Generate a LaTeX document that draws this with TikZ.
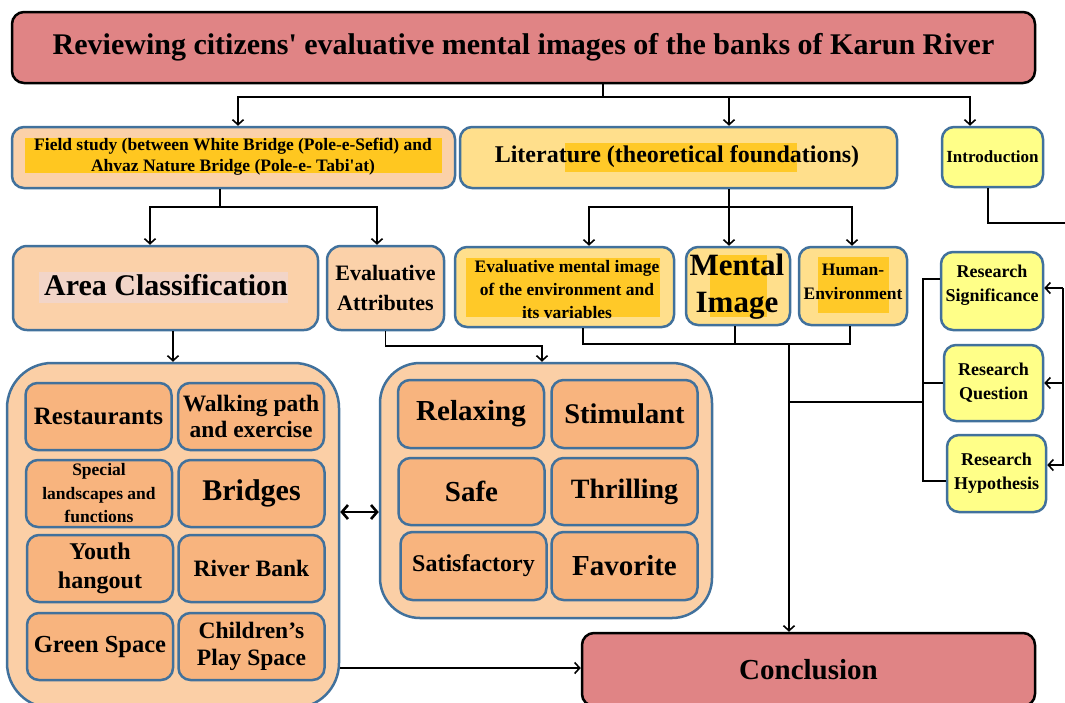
\documentclass[tikz,border=0pt]{standalone}
\usepackage{fontspec}
\setmainfont{Liberation Serif}
\usetikzlibrary{arrows.meta}

\definecolor{titlered}{RGB}{224,132,133}
\definecolor{peach}{RGB}{251,209,169}
\definecolor{fieldhl}{RGB}{255,199,32}
\definecolor{litfill}{RGB}{255,223,140}
\definecolor{lithl}{RGB}{255,201,40}
\definecolor{pale}{RGB}{255,255,136}
\definecolor{grpfill}{RGB}{251,207,166}
\definecolor{cellfill}{RGB}{248,180,126}
\definecolor{boxblue}{RGB}{65,113,156}
\definecolor{areahl}{RGB}{242,213,200}

\tikzstyle{box}=[rectangle, rounded corners=12pt, draw=boxblue, line width=2.5pt, inner sep=0pt, align=center, font=\bfseries]
\tikzstyle{redbox}=[box, draw=black, fill=titlered]
\tikzstyle{peachbox}=[box, fill=peach]
\tikzstyle{litbox}=[box, fill=litfill]
\tikzstyle{palebox}=[box, fill=pale]
\tikzstyle{group}=[box, fill=grpfill, rounded corners=42pt]
\tikzstyle{cell}=[box, fill=cellfill, minimum width=146pt, minimum height=67pt]
\tikzstyle{txt}=[inner sep=0pt, align=center, font=\bfseries]
\tikzstyle{line}=[line width=1.6pt]
\tikzstyle{arr}=[line, -{Straight Barb[length=5pt,width=11pt]}]
\tikzstyle{dblarr}=[line width=2.6pt, {Straight Barb[length=6pt,width=14pt]}-{Straight Barb[length=6pt,width=14pt]}]
\tikzset{fs/.style 2 args={font=\bfseries\fontsize{#1}{#2}\selectfont}}

\begin{document}
\begin{tikzpicture}[x=1pt,y=-1pt]
\useasboundingbox (0,0) rectangle (1065,702);

\node (title) at (523.5,47.5) [redbox, minimum width=1023, minimum height=71, fs={30}{34}] {Reviewing citizens\textquotesingle{} evaluative mental images of the banks of Karun River};

% first row
\node (field) at (233.5,157.5) [peachbox, minimum width=443, minimum height=61] {};
\fill[fieldhl] (25,138) rectangle (442,173);
\node (field-t) at (233,157) [txt, fs={17.5}{21}] {Field study (between White Bridge (Pole-e-Sefid) and\\Ahvaz Nature Bridge (Pole-e- Tabi\textquotesingle{}at)};

\node (lit) at (678.5,157.5) [litbox, minimum width=437, minimum height=61] {};
\fill[lithl] (565,143) rectangle (797,172);
\node (lit-t) at (677,157) [txt, fs={24}{28}] {Literature (theoretical foundations)};

\node (intro) at (992.5,157) [palebox, minimum width=101, minimum height=60, fs={17}{20}] {Introduction};

% second row
\node (area) at (165.5,288) [peachbox, minimum width=305, minimum height=84, rounded corners=14] {};
\fill[areahl] (39,272) rectangle (288,303);
\node (area-t) at (166,285) [txt, fs={30}{34}] {Area Classification};

\node (evattr) at (385.5,288) [peachbox, minimum width=117, minimum height=84, rounded corners=14, fs={22}{30}] {Evaluative\\Attributes};

\node (evmental) at (564.5,287) [litbox, minimum width=219, minimum height=80] {};
\fill[lithl] (466,258) rectangle (660,317);
\node (evmental-t) at (567,290) [txt, fs={17.5}{23}] {Evaluative mental image\\of the environment and\\its variables};

\node (mental) at (738,286) [litbox, minimum width=104, minimum height=78] {};
\fill[lithl] (710,255) rectangle (767,317);
\node (mental-t) at (737,287) [txt, fs={31}{37}] {Mental\\Image};

\node (human) at (853,286) [litbox, minimum width=108, minimum height=78] {};
\fill[lithl] (818,257) rectangle (889,313);
\node (human-t) at (853,282) [txt, fs={17.5}{24}] {Human-\\Environment};

\node (rsig) at (992,291) [palebox, minimum width=102, minimum height=78] {};
\node (rsig-t) at (992,285) [txt, fs={18}{24}] {Research\\Significance};
\node (rq) at (993.5,383) [palebox, minimum width=99, minimum height=76, fs={18}{24}] {Research\\Question};
\node (rhyp) at (996.5,473.5) [palebox, minimum width=99, minimum height=77, fs={18}{24}] {Research\\Hypothesis};

% groups
\node (areagrp) at (173,535.5) [group, minimum width=332, minimum height=345, rounded corners=45] {};
\node (attrgrp) at (546,490.5) [group, minimum width=332, minimum height=255, rounded corners=40] {};

\node (rest) at (98.5,416.5) [cell, fs={25}{28}] {Restaurants};
\node (walk) at (251,416.5) [cell, fs={23.5}{26}] {Walking path\\and exercise};
\node (spec) at (99,493.5) [cell, fs={17.5}{23.5}] {Special\\landscapes and\\functions};
\node (bridge) at (251.5,493.5) [cell, fs={30}{34}] {Bridges};
\node (youth) at (100,568.5) [cell, fs={24}{29}] {Youth\\hangout};
\node (river) at (251.5,568.5) [cell, fs={23.5}{27}] {River Bank};
\node (green) at (100,646.5) [cell, fs={24.5}{28}] {Green Space};
\node (child) at (251.5,646.5) [cell, fs={23.5}{27}] {Children’s\\Play Space};

\node (relax) at (471,414) [cell, minimum height=68, fs={29}{32}] {Relaxing};
\node (stim) at (624.5,414) [cell, minimum height=68, fs={28.5}{32}] {Stimulant};
\node (safe) at (471.5,491.5) [cell, fs={29}{32}] {Safe};
\node (thrill) at (624.5,491.5) [cell, fs={28}{32}] {Thrilling};
\node (satis) at (473.5,566) [cell, minimum height=68, fs={24}{28}] {Satisfactory};
\node (fav) at (624.5,566) [cell, minimum height=68, fs={29}{32}] {Favorite};

\node (concl) at (808.5,669.5) [redbox, minimum width=453, minimum height=73, fs={29}{32}] {Conclusion};

% connectors
\coordinate (split) at (603,97);
\draw[line] (title.south -| split) -- (split);
\draw[arr] (split) -| ([xshift=4.5]field.north);
\draw[arr] (split) -| ([xshift=50.5]lit.north);
\draw[arr] (split) -| ([xshift=-22.5]intro.north);

\coordinate (fsplit) at (220,207);
\draw[line] (field.south -| fsplit) -- (fsplit);
\draw[arr] (fsplit) -| ([xshift=-15.5]area.north);
\draw[arr] (fsplit) -| ([xshift=-8.5]evattr.north);

\coordinate (lsplit) at (729,207);
\draw[arr] (lit.south -| lsplit) -- (mental.north -| lsplit);
\draw[arr] (lsplit) -| ([xshift=24.5]evmental.north);
\draw[arr] (lsplit) -| ([xshift=-1]human.north);

\draw[arr] (area.south -| areagrp.north) -- (areagrp.north);
\draw[arr] (evattr.south) -- ++(0,15) -| ([xshift=-4]attrgrp.north);

\coordinate (ljoin) at (789,343);
\draw[line] ([xshift=18.5]evmental.south) -- ++(0,16) -| ([xshift=-3]human.south);
\draw[line] ([xshift=-3]mental.south) -- ++(0,18);
\draw[arr] (ljoin) -- ([xshift=-19.5]concl.north);

\coordinate (rjoin) at (923,402);
\draw[line] (ljoin |- rjoin) -- (rjoin);
\draw[line] ([yshift=12]rsig.west) -| (rjoin);
\draw[line] (rq.west) -- (rq.west -| rjoin);
\draw[line] ([yshift=-7.5]rhyp.west) -| (rjoin);

\coordinate (introout) at (1065,223);
\draw[line] ([xshift=-4.5]intro.south) |- (introout);

\coordinate (rin) at (1063,288);
\draw[arr] (rin) -- ([yshift=3]rsig.east);
\draw[arr] (rq.east -| rin) -- (rq.east);
\draw[arr] (rin) |- ([yshift=8.5]rhyp.east);

\draw[dblarr] ([yshift=23.5]areagrp.east) -- ([yshift=-21.5]attrgrp.west);
\draw[arr] ([yshift=-132.5]areagrp.east) -- ([yshift=1.5]concl.west);

\end{tikzpicture}
\end{document}
